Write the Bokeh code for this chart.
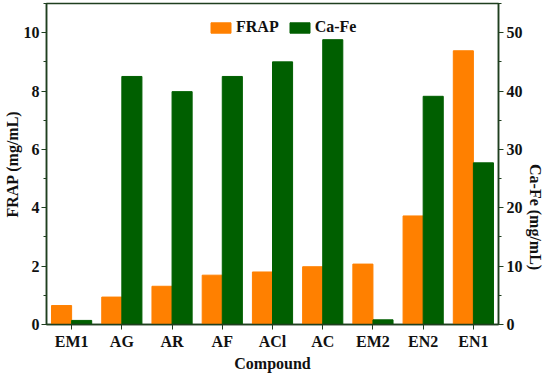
import math
from bokeh.plotting import figure
from bokeh.models import (ColumnDataSource, Range1d, FactorRange, LinearAxis,
                          SingleIntervalTicker, Legend, LegendItem)
from bokeh.transform import dodge
from bokeh.embed import file_html
from bokeh.resources import INLINE

compounds = ["EM1", "AG", "AR", "AF", "ACl", "AC", "EM2", "EN2", "EN1"]
frap = [0.65, 0.94, 1.31, 1.69, 1.80, 1.98, 2.07, 3.72, 9.38]
cafe = [0.7, 42.5, 39.9, 42.5, 45.0, 48.8, 0.8, 39.1, 27.7]

src = ColumnDataSource(dict(x=compounds, frap=frap, cafe=cafe))

FONT = "Liberation Serif"
AXC = "#1f3f1f"
ORANGE = "#ff8000"
GREEN = "#005f00"

p = figure(x_range=FactorRange(factors=compounds, range_padding=0),
           y_range=Range1d(0, 11.0),
           frame_width=452, frame_height=321,
           output_backend="svg", toolbar_location=None,
           min_border_left=0, min_border_right=0, min_border_top=3, min_border_bottom=0)
p.extra_y_ranges = {"cafe": Range1d(0, 55.0)}

r1 = p.vbar(x=dodge("x", -0.2, range=p.x_range), top="frap", width=0.4, source=src,
            fill_color=ORANGE, line_color=ORANGE)
r2 = p.vbar(x=dodge("x", 0.2, range=p.x_range), top="cafe", width=0.4, source=src,
            fill_color=GREEN, line_color=GREEN, y_range_name="cafe")

p.xgrid.visible = False
p.ygrid.visible = False
p.outline_line_color = AXC
p.outline_line_width = 1.5

raxis = LinearAxis(y_range_name="cafe", axis_label="Ca-Fe (mg/mL)")
p.add_layout(raxis, "right")
raxis.axis_label_orientation = -math.pi / 2

p.yaxis[0].ticker = SingleIntervalTicker(interval=2, num_minor_ticks=2)
p.yaxis[0].axis_label = "FRAP (mg/mL)"
raxis.ticker = SingleIntervalTicker(interval=10, num_minor_ticks=2)
p.xaxis.axis_label = "Compound"

for ax in [p.xaxis[0], p.yaxis[0], raxis]:
    ax.axis_line_color = AXC
    ax.axis_line_width = 1.5
    ax.major_tick_line_color = AXC
    ax.minor_tick_line_color = AXC
    ax.major_tick_in = 0
    ax.major_tick_out = 5
    ax.minor_tick_in = 0
    ax.minor_tick_out = 3
    ax.major_label_text_font = FONT
    ax.major_label_text_font_style = "bold"
    ax.major_label_text_font_size = "16px"
    ax.major_label_text_color = "#111111"
    ax.axis_label_text_font = FONT
    ax.axis_label_text_font_style = "bold"
    ax.axis_label_text_font_size = "16px"
    ax.axis_label_text_color = "#111111"
    ax.axis_label_standoff = 2
    ax.major_label_standoff = 3
p.yaxis[0].major_label_standoff = 2
p.yaxis[0].axis_label_standoff = 0
raxis.axis_label_standoff = 10

legend = Legend(items=[LegendItem(label="FRAP", renderers=[r1]),
                       LegendItem(label="Ca-Fe", renderers=[r2])],
                orientation="horizontal", location=(162, 288),
                label_text_font=FONT, label_text_font_style="bold",
                label_text_font_size="16px", label_text_color="#111111",
                glyph_width=25, glyph_height=13, label_standoff=3, spacing=8,
                padding=0, margin=0, border_line_color=None,
                background_fill_alpha=0)
p.add_layout(legend)

open("out.html", "w").write(file_html(p, INLINE))
